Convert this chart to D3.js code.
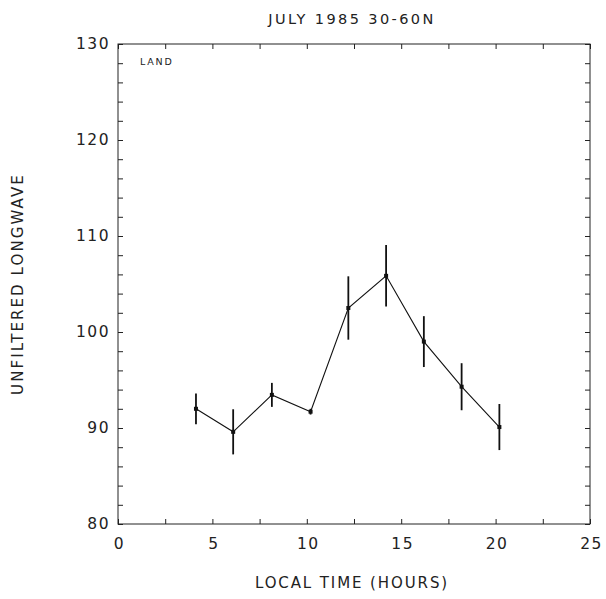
<!DOCTYPE html>
<html>
<head>
<meta charset="utf-8">
<script src="https://cdn.jsdelivr.net/npm/d3@7"></script>
<style>
  html, body { margin: 0; padding: 0; background: #fff; }
  svg text { font-family: "DejaVu Sans", "Liberation Sans", sans-serif; font-weight: 400; fill: #222; }
</style>
</head>
<body>
<svg id="chart" width="606" height="599"></svg>
<script>
// ---- Data ----
const localTime = [4.13, 6.1, 8.15, 10.2, 12.2, 14.2, 16.2, 18.2, 20.2];
const longwave  = [92.0, 89.6, 93.45, 91.7, 102.5, 105.85, 99.0, 94.3, 90.1];
const errors    = [1.6, 2.35, 1.25, 0.3, 3.3, 3.2, 2.65, 2.45, 2.4];
const xTicks = [0, 5, 10, 15, 20, 25];
const yTicks = [80, 90, 100, 110, 120, 130];
const titleText = "JULY 1985 30-60N";
const xLabel = "LOCAL TIME (HOURS)";
const yLabel = "UNFILTERED LONGWAVE";
const panelLabel = "LAND";

const svg = d3.select("#chart");
const L = 118, R = 590, T = 44, B = 524;
const x = d3.scaleLinear().domain([0, 25]).range([L, R]);
const y = d3.scaleLinear().domain([80, 130]).range([B, T]);

// Frame
svg.append("rect").attr("x", L).attr("y", T).attr("width", R - L).attr("height", B - T)
  .attr("fill", "none").attr("stroke", "#222").attr("stroke-width", 1);

// Axes with inward ticks
const xMinor = d3.range(0, 25.01, 2.5);
const yMinor = d3.range(80, 130.01, 2);

const gxB = svg.append("g").attr("transform", `translate(0,${B})`)
  .call(d3.axisTop(x).tickValues(xMinor).tickSize(5).tickFormat(""));
const gxT = svg.append("g").attr("transform", `translate(0,${T})`)
  .call(d3.axisBottom(x).tickValues(xMinor).tickSize(5).tickFormat(""));
const gyL = svg.append("g").attr("transform", `translate(${L},0)`)
  .call(d3.axisRight(y).tickValues(yMinor).tickSize(5).tickFormat(""));
const gyR = svg.append("g").attr("transform", `translate(${R},0)`)
  .call(d3.axisLeft(y).tickValues(yMinor).tickSize(5).tickFormat(""));
[gxB, gxT, gyL, gyR].forEach(g => {
  g.select(".domain").remove();
  g.selectAll("line").attr("stroke", "#222");
});

const tickFont = "DejaVu Sans, sans-serif";
// Tick labels
const gxl = svg.append("g").attr("transform", `translate(0,${B})`)
  .call(d3.axisBottom(x).tickValues(xTicks).tickSize(0).tickPadding(14).tickFormat(d3.format("d")));
gxl.select(".domain").remove();
gxl.selectAll("text").attr("font-size", 15.5).attr("letter-spacing", 1.5).attr("dx", 1)
  .style("font-family", tickFont).style("font-weight", 400).attr("fill", "#222");

const gyl = svg.append("g").attr("transform", `translate(${L},0)`)
  .call(d3.axisLeft(y).tickValues(yTicks).tickSize(0).tickPadding(8).tickFormat(d3.format("d")));
gyl.select(".domain").remove();
gyl.selectAll("text").attr("font-size", 15.5).attr("letter-spacing", 1.5)
  .style("font-family", tickFont).style("font-weight", 400).attr("fill", "#222");

// Titles
svg.append("text").attr("x", 352).attr("y", 24).attr("text-anchor", "middle")
  .attr("font-size", 14.5).attr("letter-spacing", 2.4).text(titleText);
svg.append("text").attr("x", 352).attr("y", 588).attr("text-anchor", "middle")
  .attr("font-size", 15).attr("letter-spacing", 1.9).text(xLabel);
svg.append("text").attr("transform", `translate(23,${(T + B) / 2}) rotate(-90)`)
  .attr("text-anchor", "middle").attr("font-size", 15).attr("letter-spacing", 2.1).text(yLabel);
svg.append("text").attr("x", 140).attr("y", 65).attr("font-size", 9.5).attr("letter-spacing", 1.8).text(panelLabel);

// Data
const pts = localTime.map((t, i) => ({ t, v: longwave[i], e: errors[i] }));
svg.append("path").datum(pts)
  .attr("fill", "none").attr("stroke", "#111").attr("stroke-width", 1.1)
  .attr("d", d3.line().x(d => x(d.t)).y(d => y(d.v)));

svg.selectAll(".err").data(pts).join("line").attr("class", "err")
  .attr("x1", d => x(d.t)).attr("x2", d => x(d.t))
  .attr("y1", d => y(d.v - d.e)).attr("y2", d => y(d.v + d.e))
  .attr("stroke", "#111").attr("stroke-width", 1.8);

svg.selectAll(".pt").data(pts).join("rect").attr("class", "pt")
  .attr("x", d => x(d.t) - 2).attr("y", d => y(d.v) - 2)
  .attr("width", 4).attr("height", 4).attr("fill", "#111");
</script>
</body>
</html>
